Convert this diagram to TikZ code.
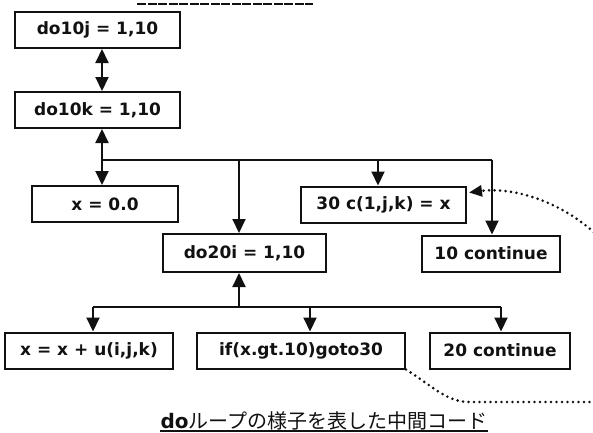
\documentclass[tikz,border=0pt]{standalone}
\usepackage{fontspec}
\setmainfont{DejaVu Sans}
\newfontfamily\jpfont{Noto Sans CJK JP}
\usepackage{tikz}
\usetikzlibrary{arrows.meta}
\definecolor{ink}{HTML}{111111}

\begin{document}
\begin{tikzpicture}[x=1pt,y=-1pt,
  box/.style={draw=ink,line width=2pt,minimum height=36pt,inner sep=0pt,text=ink,font=\fontsize{17}{19}\selectfont\bfseries},
  link/.style={draw=ink,line width=2pt},
  tip/.style={link,-{Triangle[length=14pt,width=13pt]}},
  both/.style={link,{Triangle[length=14pt,width=13pt]}-{Triangle[length=14pt,width=13pt]}},
  dots/.style={draw=ink,line width=2.9pt,line cap=round,dash pattern=on 0pt off 5.5pt}]
\useasboundingbox (0,0) rectangle (593,432);
% remnant rule at the top edge
\draw[link,line width=2pt,dash pattern=on 9pt off 1.5pt] (137,4) -- (313,4);
% outer loops
\node[box,minimum width=165pt] (j) at (97.5,30) {do10j = 1,10};
\node[box,minimum width=165pt] (k) at (97.5,110) {do10k = 1,10};
\node[box,minimum width=146pt] (x0) at (105,204) {x = 0.0};
\node[box,minimum width=165pt] (c30) at (383.5,204.5) {30 c(1,j,k) = x};
\node[box,minimum width=163pt,minimum height=38pt] (i20) at (244.5,253) {do20i = 1,10};
\node[box,minimum width=138pt] (c10) at (491,253.5) {10 continue};
% inner loop body
\node[box,minimum width=168pt] (xu) at (89,350.5) {x = x + u(i,j,k)};
\node[box,minimum width=208pt] (ifg) at (301,350.5) {if(x.gt.10)goto30};
\node[box,minimum width=140pt] (c20) at (500,350.5) {20 continue};
% bus under do10k
\coordinate (bus1w) at (102,160);
\coordinate (bus1e) at (492,160);
\coordinate (tap20) at (239,160);
\coordinate (tap30) at (378,160);
\draw[both] (j.south -| bus1w) -- (k.north -| bus1w);
\draw[both] (k.south -| bus1w) -- (x0.north -| bus1w);
\draw[link] (bus1w) -- (bus1e);
\draw[tip] (tap20) -- (i20.north -| tap20);
\draw[tip] (tap30) -- (c30.north -| tap30);
\draw[tip] (bus1e) -- (c10.north -| bus1e);
% bus under do20i
\coordinate (bus2w) at (93,307);
\coordinate (bus2e) at (501,307);
\coordinate (tapup) at (239,307);
\coordinate (tapif) at (310,307);
\draw[link] (bus2w) -- (bus2e);
\draw[tip] (tapup) -- (i20.south -| tapup);
\draw[tip] (bus2w) -- (xu.north -| bus2w);
\draw[tip] (tapif) -- (ifg.north -| tapif);
\draw[tip] (bus2e) -- (c20.north -| bus2e);
% goto30 jump, leaving the frame
\coordinate (offlow) at (598,402);
\coordinate (offhigh) at (598,236);
\draw[dots] (ifg.south east) .. controls (435,388) and (447,402) .. (470,402) -- (offlow);
\draw[dots,-{Triangle[length=13pt,width=11pt]},shorten >=2pt] (offhigh) .. controls (560,200) and (512,187) .. (c30.8);
% caption
\node[anchor=south,inner xsep=0pt,inner ysep=1pt,text=ink,font=\fontsize{20}{22}\selectfont] (cap) at (324,431) {{\bfseries do}{\jpfont ループの様子を表した中間コード}};
\draw[link,line width=1.6pt] (cap.south west) -- (cap.south east);
\end{tikzpicture}
\end{document}
